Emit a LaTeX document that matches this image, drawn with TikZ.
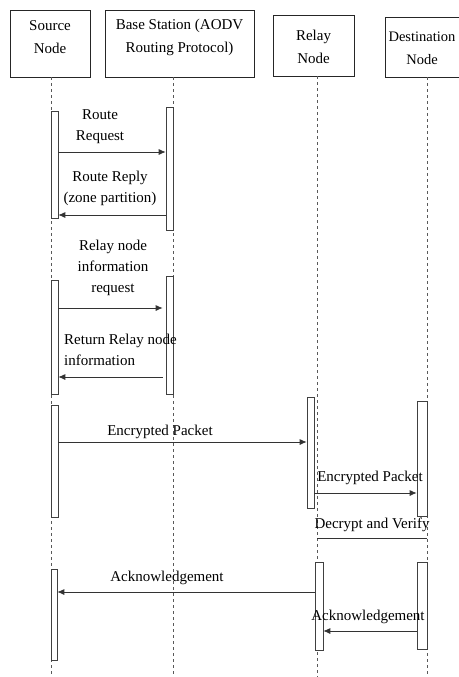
\documentclass[tikz,border=0pt]{standalone}
\usepackage{fontspec}
\setmainfont{Liberation Serif}
\usetikzlibrary{arrows.meta}
\begin{document}
\begin{tikzpicture}[x=1pt,y=-1pt,
  actor/.style={draw=black!85, fill=white, semithick, inner sep=0pt},
  caption/.style={align=center, inner sep=1pt, font=\fontsize{15}{23}\selectfont},
  bar/.style={draw=black!75, fill=white, semithick, minimum width=7pt, inner sep=0pt, anchor=north},
  life/.style={draw=black!65, thin, dash pattern=on 3pt off 3pt},
  msg/.style={draw=black!80, line width=0.8pt, -{Latex[length=7pt,width=6pt]}},
  label/.style={font=\fontsize{15}{21}\selectfont, align=center, inner sep=1pt}]
  \useasboundingbox (0,0) rectangle (458,677);
  % actors
  \node [actor, minimum width=80pt, minimum height=67pt] (Src) at (50,43.5) {};
  \node [actor, minimum width=149pt, minimum height=67pt] (Base) at (179.5,43.5) {};
  \node [actor, minimum width=81pt, minimum height=61pt] (Rel) at (313.5,45.5) {};
  \node [actor, minimum width=84pt, minimum height=60pt] (Dst) at (427,47) {};
  \node [caption] (Src-txt) at ([yshift=6pt]Src.center) {Source\\Node};
  \node [caption] (Base-txt) at ([yshift=6pt]Base.center) {Base Station (AODV\\Routing Protocol)};
  \node [caption] (Rel-txt) at ([yshift=-1pt]Rel.center) {Relay\\Node};
  \node [caption, font=\fontsize{14.5}{23}\selectfont] (Dst-txt) at ([xshift=-5pt,yshift=-1pt]Dst.center) {Destination\\Node};
  % lifelines
  \coordinate (SrcEnd) at (51,677);
  \coordinate (BaseEnd) at (173,677);
  \coordinate (RelEnd) at (317,677);
  \coordinate (DstEnd) at (427,677);
  \draw [life] (Src.south -| SrcEnd) -- (SrcEnd);
  \draw [life] (Base.south -| BaseEnd) -- (BaseEnd);
  \draw [life] (Rel.south -| RelEnd) -- (RelEnd);
  \draw [life] (Dst.south -| DstEnd) -- (DstEnd);
  % activation bars
  \node [bar, minimum height=107pt] (Src-1) at (54.5,111) {};
  \node [bar, minimum height=123pt] (Base-1) at (169.5,107) {};
  \node [bar, minimum height=114pt] (Src-2) at (54.5,280) {};
  \node [bar, minimum height=118pt] (Base-2) at (169.5,276) {};
  \node [bar, minimum height=112pt] (Src-3) at (54.5,405) {};
  \node [bar, minimum height=111pt] (Rel-1) at (310.5,397) {};
  \node [bar, minimum height=115pt, minimum width=10pt] (Dst-1) at (422,401) {};
  \node [bar, minimum height=91pt, minimum width=6pt] (Src-4) at (54,569) {};
  \node [bar, minimum height=88pt, minimum width=8pt] (Rel-2) at (319,562) {};
  \node [bar, minimum height=87pt, minimum width=10pt] (Dst-2) at (422,562) {};
  % message levels
  \coordinate (m1) at (0,152);
  \coordinate (m2) at (0,215);
  \coordinate (m3) at (0,308);
  \coordinate (m4) at (0,377);
  \coordinate (m5) at (0,442);
  \coordinate (m6) at (0,493);
  \coordinate (m7) at (0,538);
  \coordinate (m8) at (0,592);
  \coordinate (m9) at (0,631);
  % messages
  \draw [msg] (Src-1.east |- m1) -- (Base-1.west |- m1);
  \node [label] (l1) at (100,127) {Route\\Request};
  \draw [msg] (Base-1.west |- m2) -- (Src-1.east |- m2);
  \node [label] (l2) at (110,188) {Route Reply\\(zone partition)};
  \draw [msg, shorten >=3pt] (Src-2.east |- m3) -- (Base-2.west |- m3);
  \node [label] (l3) at (113,268) {Relay node\\information\\request};
  \draw [msg, shorten <=3pt] (Base-2.west |- m4) -- (Src-2.east |- m4);
  \node [label, align=left, anchor=west] (l4) at (63,350) {Return Relay node\\information};
  \draw [msg] (Src-3.east |- m5) -- (Rel-1.west |- m5);
  \node [label] (l5) at (160,432) {Encrypted Packet};
  \draw [msg] (Rel-1.east |- m6) -- (Dst-1.west |- m6);
  \node [label] (l6) at (370,478) {Encrypted Packet};
  \draw [draw=black!80, line width=0.8pt] (RelEnd |- m7) -- (DstEnd |- m7);
  \node [label] (l7) at (372,525) {Decrypt and Verify};
  \draw [msg] (Rel-2.west |- m8) -- (Src-4.east |- m8);
  \node [label] (l8) at (167,578) {Acknowledgement};
  \draw [msg] (Dst-2.west |- m9) -- (Rel-2.east |- m9);
  \node [label] (l9) at (368,617) {Acknowledgement};
\end{tikzpicture}
\end{document}
